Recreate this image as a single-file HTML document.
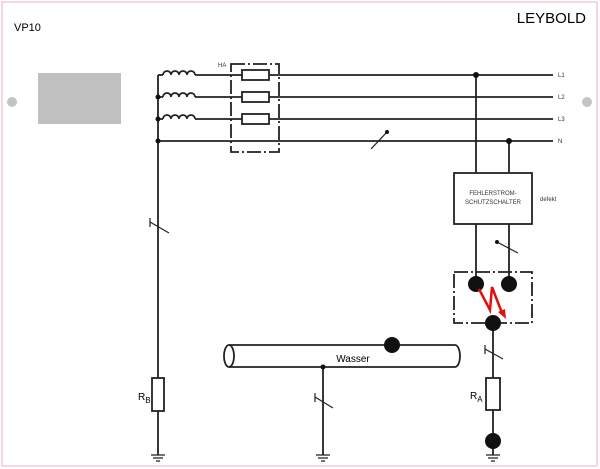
<!DOCTYPE html>
<html><head><style>body{margin:0;background:#fff}svg{display:block}</style></head><body>
<svg width="600" height="469" viewBox="0 0 600 469" xmlns="http://www.w3.org/2000/svg" font-family="Liberation Sans, sans-serif">
<rect x="2" y="2" width="595" height="464" fill="#fff" stroke="#f4c8d8" stroke-width="1.5"/>
<text x="14" y="31" font-size="11">VP10</text>
<text x="586" y="23" font-size="15" text-anchor="end">LEYBOLD</text>
<rect x="38" y="73" width="83" height="51" fill="#c0c0c0"/>
<circle cx="12" cy="102" r="5" fill="#c4c4c4"/>
<circle cx="587" cy="102" r="5" fill="#c4c4c4"/>
<g stroke="#222" stroke-width="1.8" fill="none">
<path d="M158 75 V455"/>
<path d="M158 75 H163"/>
<path d="M163 75 a4 4 0 0 1 8 0 a4 4 0 0 1 8 0 a4 4 0 0 1 8 0 a4 4 0 0 1 8 0"/>
<path d="M158 97 H163 M163 97 a4 4 0 0 1 8 0 a4 4 0 0 1 8 0 a4 4 0 0 1 8 0 a4 4 0 0 1 8 0"/>
<path d="M158 119 H163 M163 119 a4 4 0 0 1 8 0 a4 4 0 0 1 8 0 a4 4 0 0 1 8 0 a4 4 0 0 1 8 0"/>
<path d="M195 75 H553 M195 97 H553 M195 119 H553 M158 141 H553"/>
<rect x="242" y="70" width="27" height="10" fill="#fff"/>
<rect x="242" y="92" width="27" height="10" fill="#fff"/>
<rect x="242" y="114" width="27" height="10" fill="#fff"/>
<rect x="231" y="64" width="48" height="88" stroke-dasharray="14,3,2,3"/>
<path d="M476 75 V173 M509 141 V173"/>
<rect x="454" y="173" width="78" height="51" fill="#fff"/>
<path d="M476 224 V284 M509 224 V284"/>
<rect x="454" y="272" width="78" height="51" stroke-dasharray="14,3,2,3"/>
<path d="M493 323 V455"/>
<rect x="486" y="378" width="14" height="32" fill="#fff"/>
<rect x="152" y="378" width="12" height="33" fill="#fff"/>
<path d="M229 345 H455 M229 367 H455"/>
<path d="M455 345 a5 11 0 0 1 0 22"/>
<ellipse cx="229" cy="356" rx="5" ry="11"/>
<path d="M323 367 V455"/>
</g>
<g stroke="#222" stroke-width="1.2" fill="none">
<path d="M150 218 V227 M150 222 L169 233"/>
<path d="M315 393 V402 M315 397 L333 408"/>
<path d="M485 345 V354 M485 349 L503 359"/>
<path d="M371 149 L387 132"/>
<path d="M497 242 L518 253"/>
<path d="M151 455 H165 M153 458 H163 M156 461 H160"/>
<path d="M316 455 H330 M318 458 H328 M321 461 H325"/>
<path d="M486 455 H500 M488 458 H498 M491 461 H495"/>
</g>
<g fill="#111">
<circle cx="158" cy="97" r="2.5"/><circle cx="158" cy="119" r="2.5"/><circle cx="158" cy="141" r="2.5"/>
<circle cx="476" cy="75" r="3"/><circle cx="509" cy="141" r="3"/>
<circle cx="387" cy="132" r="2"/><circle cx="497" cy="242" r="2"/>
<circle cx="476" cy="284" r="8"/><circle cx="509" cy="284" r="8"/><circle cx="493" cy="323" r="8"/>
<circle cx="493" cy="441" r="8"/><circle cx="392" cy="345" r="8"/><circle cx="323" cy="367" r="2.5"/>
</g>
<path d="M479 289 L490 310 L492 287 L502 313" stroke="#e01010" stroke-width="2.5" fill="none"/>
<path d="M498 312 L506 319 L505 309 Z" fill="#e01010"/>
<g font-size="6" fill="#333">
<text x="218" y="67">HA</text>
<text x="558" y="77">L1</text><text x="558" y="99">L2</text><text x="558" y="121">L3</text><text x="558" y="143">N</text>
<text x="540" y="201">defekt</text>
<text x="493" y="195" text-anchor="middle">FEHLERSTROM-</text>
<text x="493" y="204" text-anchor="middle">SCHUTZSCHALTER</text>
</g>
<text x="353" y="362" font-size="10" text-anchor="middle">Wasser</text>
<text x="138" y="400" font-size="10">R<tspan font-size="8" dy="3">B</tspan></text>
<text x="470" y="399" font-size="10">R<tspan font-size="8" dy="3">A</tspan></text>
</svg>
</body></html>
